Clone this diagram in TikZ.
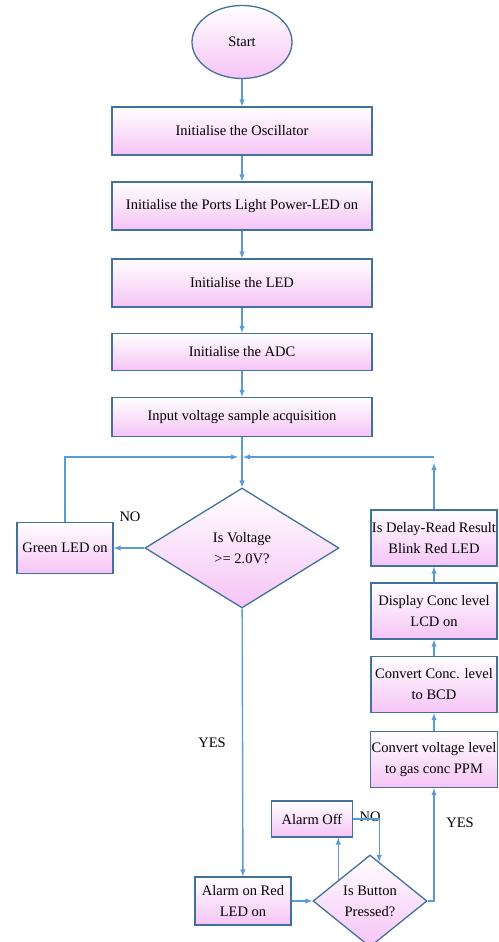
\documentclass[tikz,border=0pt]{standalone}
\usepackage{fontspec}
\setmainfont{Liberation Serif}
\usepackage{tikz}
\usepackage{xcolor}
\usetikzlibrary{arrows,shapes.geometric,calc}

\definecolor{edgeblue}{RGB}{65,113,156}
\definecolor{flowblue}{RGB}{91,155,213}
\definecolor{boxpink}{RGB}{246,196,246}

\tikzset{
  shaded/.style={draw=edgeblue, line width=1.3pt, top color=white, bottom color=boxpink,
                 font=\fontsize{14.5}{21}\selectfont, align=center, inner sep=1pt},
  term/.style={shaded, ellipse, minimum width=100pt, minimum height=73pt},
  proc/.style={shaded, rectangle, minimum width=260pt, minimum height=48pt},
  side/.style={shaded, rectangle, minimum width=126pt, minimum height=56pt},
  small/.style={shaded, rectangle, minimum width=96pt, minimum height=48pt},
  decision/.style={shaded, diamond, inner sep=0pt, aspect=1.6},
  tag/.style={font=\fontsize{14.5}{21}\selectfont, inner sep=0pt},
  flow/.style={draw=flowblue, line width=1.4pt},
}

\begin{document}
\begin{tikzpicture}[->, >=latex, x=1pt, y=-1pt, node distance=75pt,
                    every edge/.append style={flow}]
  \useasboundingbox (0,0) rectangle (498,942);

  \node[term]     (start)                                    at (242,42) {Start};
  \node[proc]     (osc)   [below of=start, node distance=89pt]        {Initialise the Oscillator};
  \node[proc]     (ports) [below of=osc]                              {Initialise the Ports Light Power-LED on};
  \node[proc]     (led)   [below of=ports, node distance=77pt]        {Initialise the LED};
  \node[proc, minimum height=37pt] (adc)   [below of=led, node distance=69pt]   {Initialise the ADC};
  \node[proc, minimum height=39pt] (input) [below of=adc, node distance=65pt]   {Input voltage sample acquisition};
  \node[decision, minimum width=194pt, minimum height=120pt]
                  (volt)  [below of=input, node distance=131pt]       {Is Voltage\\>= 2.0V?};
  \node[small, minimum height=51pt] (green) [left of=volt, node distance=177pt] {Green LED on};

  \node[side]     (blink)                                    at (434,538) {Is Delay-Read Result\\Blink Red LED};
  \node[side]     (disp)  [below of=blink, node distance=73pt]        {Display Conc level\\LCD on};
  \node[side]     (bcd)   [below of=disp, node distance=73.5pt]       {Convert Conc. level\\to BCD};
  \node[side]     (ppm)   [below of=bcd]                              {Convert voltage level\\to gas conc PPM};

  \node[small]    (alarmon)                                  at (243,901) {Alarm on Red\\LED on};
  \node[decision, minimum width=114pt, minimum height=92pt]
                  (button) [right of=alarmon, node distance=127pt]    {Is Button\\Pressed?};
  \node[small, minimum width=81pt, minimum height=36pt]
                  (alarmoff)                                 at (312,819) {Alarm Off};

  \node[tag] (novolt)  at (130,517) {NO};
  \node[tag] (yesvolt) at (212,743) {YES};
  \node[tag] (nobtn)   at (370,817) {NO};
  \node[tag] (yesbtn)  at (460,823) {YES};

  % loop back junction
  \coordinate (jl) at (238,457);
  \coordinate (jr) at (243,457);
  \coordinate (rc) at (434,457);
  \coordinate (bl) at ($(button.west)!0.45!(button.north)$);
  \coordinate (br) at ($(button.north)!0.16!(button.east)$);

  \path (start) edge (osc)
        (osc)   edge (ports)
        (ports) edge (led)
        (led)   edge (adc)
        (adc)   edge (input)
        (input) edge (volt)
        (volt)  edge (green)
        (volt)  edge (alarmon)
        (alarmon) edge (button)
        (ppm)   edge (bcd)
        (bcd)   edge (disp)
        (disp)  edge (blink)
        ;
  \draw[flow] (green.north) |- (jl);
  \draw[flow, shorten >=6pt] (blink.north) -- (rc);
  \draw[flow] (rc) -- (jr);
  \draw[flow] (bl) -- (bl |- alarmoff.south);
  \draw[flow] (alarmoff.east) -| (br);
  \draw[flow] (button.east) -| (ppm.south);
\end{tikzpicture}
\end{document}
